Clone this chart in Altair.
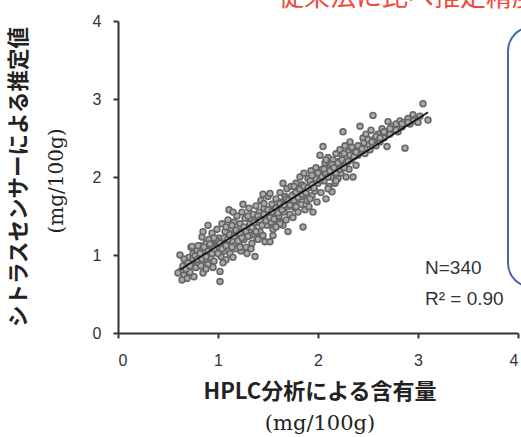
import altair as alt
import pandas as pd

# HPLC value (x) and citrus-sensor estimate (y)
hplc = [
    0.63, 0.65, 0.66, 0.68, 0.70, 0.71, 0.72, 0.74, 0.75, 0.76, 0.77, 0.78, 0.79, 0.80, 0.66, 0.69, 0.73, 0.62, 0.60, 0.64, 0.74,
    0.81, 0.82, 0.83, 0.84, 0.85, 0.86, 0.87, 0.88, 0.89, 0.90, 0.91, 0.92, 0.93, 0.94, 0.95, 0.96, 0.97, 0.98, 0.99, 1.00, 0.85, 0.90, 0.95, 0.88,
    1.01, 1.02, 1.02, 1.03, 1.04, 1.05, 1.06, 1.07, 1.08, 1.09, 1.10, 1.11, 1.11, 1.12, 1.13, 1.14, 1.15, 1.16, 1.17, 1.18, 1.19, 1.20, 1.05, 1.15,
    1.21, 1.22, 1.23, 1.24, 1.25, 1.26, 1.27, 1.28, 1.29, 1.30, 1.31, 1.32, 1.33, 1.34, 1.35, 1.36, 1.37, 1.38, 1.39, 1.40, 1.25, 1.33,
    1.41, 1.42, 1.43, 1.44, 1.45, 1.46, 1.47, 1.48, 1.49, 1.50, 1.51, 1.52, 1.52, 1.53, 1.54, 1.55, 1.56, 1.57, 1.58, 1.59, 1.60, 1.45, 1.55,
    1.61, 1.62, 1.63, 1.64, 1.65, 1.66, 1.67, 1.68, 1.69, 1.70, 1.70, 1.71, 1.72, 1.73, 1.74, 1.75, 1.76, 1.77, 1.78, 1.79, 1.80, 1.65,
    1.81, 1.82, 1.83, 1.84, 1.85, 1.85, 1.86, 1.87, 1.88, 1.89, 1.90, 1.91, 1.92, 1.93, 1.94, 1.95, 1.96, 1.97, 1.98, 1.99, 2.00,
    2.01, 2.02, 2.03, 2.04, 2.05, 2.06, 2.07, 2.08, 2.09, 2.10, 2.11, 2.12, 2.13, 2.14, 2.15, 2.16, 2.17, 2.18, 2.19, 2.20,
    2.21, 2.22, 2.23, 2.24, 2.25, 2.26, 2.27, 2.28, 2.29, 2.30, 2.31, 2.32, 2.33, 2.35, 2.36, 2.38, 2.40,
    2.42, 2.43, 2.45, 2.47, 2.48, 2.50, 2.52, 2.53, 2.55, 2.56, 2.58, 2.60, 2.62, 2.64, 2.66, 2.68, 2.69, 2.70,
    2.72, 2.74, 2.76, 2.78, 2.80, 2.82, 2.84, 2.86, 2.87, 2.90, 2.92, 2.95, 2.98, 3.02, 3.05, 3.10,
    0.68, 0.70, 0.72, 0.75, 0.77, 0.79, 0.82, 0.84, 0.86, 0.88, 0.90, 0.92, 0.94, 0.96, 0.98, 1.00,
    1.02, 1.04, 1.06, 1.08, 1.10, 1.12, 1.14, 1.16, 1.18, 1.20, 1.22, 1.24, 1.26, 1.28, 1.30,
    1.32, 1.34, 1.36, 1.38, 1.40, 1.42, 1.44, 1.46, 1.48, 1.50, 1.52, 1.54, 1.56, 1.58, 1.60,
    1.62, 1.64, 1.66, 1.68, 1.70, 1.72, 1.74, 1.76, 1.78, 1.80, 1.82, 1.84, 1.86, 1.88, 1.90,
    1.92, 1.94, 1.96, 1.98, 2.00, 2.02, 2.04, 2.06, 2.08, 2.10, 2.12, 2.14, 2.16, 2.18, 2.20,
    2.22, 2.24, 2.26, 2.28, 2.30, 2.32, 2.34, 2.36, 2.38, 2.40, 2.44, 2.46, 2.50, 2.54, 2.58,
    2.62, 2.66, 2.72, 2.78, 2.84, 2.90, 2.96, 3.00,
    0.80, 0.96, 1.14, 1.30, 1.46, 1.62, 1.78, 1.94, 2.10, 2.26, 1.08, 1.22, 1.40, 1.58, 1.76, 1.92, 2.08, 2.18,
]
sensor = [
    0.80, 0.86, 0.74, 0.92, 0.83, 0.97, 0.78, 0.88, 1.02, 0.72, 0.93, 0.84, 1.06, 0.90, 0.95, 0.70, 1.10, 1.00, 0.77, 0.68, 1.11,
    0.98, 1.12, 0.86, 1.23, 0.77, 1.04, 0.94, 1.15, 1.00, 0.88, 1.20, 1.07, 0.96, 1.28, 1.12, 0.92, 1.18, 1.03, 1.33, 1.10, 1.30, 1.38, 0.84, 0.82,
    1.22, 0.79, 0.66, 0.98, 1.40, 1.15, 1.05, 1.30, 0.94, 1.21, 1.45, 1.58, 1.12, 1.02, 1.34, 1.18, 0.97, 1.42, 1.25, 1.08, 1.50, 1.30, 0.90, 1.55,
    1.15, 1.40, 1.05, 1.55, 1.28, 1.20, 1.47, 1.10, 1.02, 1.36, 1.60, 1.25, 1.45, 1.15, 1.52, 1.33, 0.98, 1.63, 1.22, 1.42, 1.65, 1.08,
    1.55, 1.30, 1.70, 1.45, 1.25, 1.60, 1.17, 1.50, 1.38, 1.75, 1.55, 1.17, 1.79, 1.42, 1.65, 1.33, 1.58, 1.48, 1.72, 1.38, 1.62, 1.78, 1.25,
    1.50, 1.80, 1.42, 1.68, 1.92, 1.55, 1.75, 1.45, 1.85, 1.30, 1.62, 1.72, 1.52, 1.88, 1.65, 1.48, 1.78, 1.60, 1.92, 1.70, 1.55, 1.38,
    1.82, 2.00, 1.65, 1.90, 1.36, 1.75, 2.05, 1.58, 1.85, 1.70, 1.98, 1.62, 1.88, 2.08, 1.76, 1.55, 1.95, 1.82, 2.12, 1.68, 1.92,
    2.02, 2.28, 1.80, 2.10, 2.39, 1.95, 2.18, 1.72, 2.05, 2.25, 1.88, 2.15, 2.00, 1.81, 2.22, 2.08, 1.92, 2.30, 2.12, 1.98,
    2.20, 2.35, 2.05, 2.28, 2.58, 2.15, 2.40, 2.00, 2.25, 2.32, 2.10, 2.45, 2.22, 2.00, 2.35, 2.15, 2.28,
    2.65, 2.38, 2.50, 2.30, 2.55, 2.42, 2.35, 2.60, 2.79, 2.48, 2.40, 2.55, 2.45, 2.62, 2.50, 2.58, 2.39, 2.71,
    2.55, 2.65, 2.60, 2.68, 2.58, 2.72, 2.64, 2.70, 2.37, 2.75, 2.68, 2.80, 2.74, 2.78, 2.94, 2.73,
    0.82, 0.90, 0.86, 0.95, 0.99, 0.94, 1.02, 0.95, 1.10, 0.98, 1.05, 1.14, 1.02, 1.08, 1.20, 1.02,
    1.15, 1.08, 1.22, 1.12, 1.20, 1.26, 1.10, 1.24, 1.32, 1.18, 1.28, 1.22, 1.36, 1.30, 1.24,
    1.40, 1.35, 1.42, 1.30, 1.50, 1.45, 1.38, 1.52, 1.44, 1.58, 1.48, 1.55, 1.46, 1.60, 1.54,
    1.66, 1.58, 1.64, 1.72, 1.70, 1.64, 1.76, 1.70, 1.80, 1.74, 1.84, 1.78, 1.88, 1.80, 1.86,
    1.95, 1.90, 1.86, 1.98, 2.05, 1.96, 2.00, 2.10, 2.04, 2.00, 2.08, 2.16, 2.12, 2.05, 2.18,
    2.10, 2.22, 2.30, 2.18, 2.20, 2.28, 2.38, 2.26, 2.32, 2.40, 2.36, 2.44, 2.48, 2.45, 2.52,
    2.50, 2.58, 2.62, 2.60, 2.68, 2.70, 2.72, 2.70,
    1.12, 1.22, 1.38, 1.50, 1.66, 1.40, 1.62, 2.02, 1.85, 2.12, 1.36, 1.10, 1.20, 1.36, 1.88, 1.72, 2.22, 1.95,
]

fit_x = [0.62, 3.10]
fit_y = [0.81, 2.83]
axis_ticks = [0, 1, 2, 3, 4]

x_title = "HPLC分析による含有量"
y_title = "シトラスセンサーによる推定値"
unit_label = "(mg/100g)"
headline = "従来法に比べ推定精度が向上"
n_label = "N=340"
r2_label = "R² = 0.90"

pts = pd.DataFrame({"x": hplc, "y": sensor})
fit = pd.DataFrame({"x": fit_x, "y": fit_y})

xs = alt.Scale(domain=[0, 4], nice=False)
ys = alt.Scale(domain=[0, 4], nice=False)
axis_common = dict(
    values=axis_ticks, format="d", grid=False, title=None, tickSize=5, tickWidth=2,
    tickColor="#333", domainColor="#333", domainWidth=2, labelFontSize=16,
    labelColor="#333", labelFont="Liberation Sans",
)

points = alt.Chart(pts).mark_circle(
    size=34, fill="#ababab", stroke="#666666", strokeWidth=1.6, opacity=1
).encode(
    x=alt.X("x:Q", scale=xs, axis=alt.Axis(labelPadding=14, **axis_common)),
    y=alt.Y("y:Q", scale=ys, axis=alt.Axis(labelPadding=12, **axis_common)),
)

line = alt.Chart(fit).mark_line(color="#111", strokeWidth=1.6).encode(
    x=alt.X("x:Q", scale=xs), y=alt.Y("y:Q", scale=ys)
)


def label(text, x, y, size, **kw):
    return alt.Chart(pd.DataFrame({"t": [text]})).mark_text(fontSize=size, **kw).encode(
        text="t:N", x=alt.value(x), y=alt.value(y)
    )


CJK = "Noto Sans CJK JP"
SERIF = "DejaVu Serif"

red = label(headline, 160, -15, 26, align="left", baseline="alphabetic",
            color="#f04a3c", font=CJK)
n_txt = label(n_label, 307, 247, 19, align="left", baseline="middle",
              color="#333", font="Liberation Sans")
r_txt = label(r2_label, 307, 278, 19, align="left", baseline="middle",
              color="#333", font="Liberation Sans")

y_t1 = label(y_title, -98, 156, 21.5, angle=270, align="center", baseline="middle",
             color="#222", font=CJK, fontWeight="bold")
y_u = label(unit_label, -61, 160, 20, angle=270, align="center", baseline="middle",
            color="#222", font=SERIF)

x_t1 = label(x_title, 202, 371, 22, align="center", baseline="middle",
             color="#222", font=CJK, fontWeight="bold")
x_u = label(unit_label, 202, 403, 21, align="center", baseline="middle",
            color="#222", font=SERIF)

box = alt.Chart(pd.DataFrame({"a": [0]})).mark_rect(
    fill=None, stroke="#4565ad", strokeWidth=2, cornerRadius=24
).encode(x=alt.value(390), x2=alt.value(560), y=alt.value(6), y2=alt.value(266))

chart = alt.layer(
    box, points, line, red, n_txt, r_txt, y_t1, y_u, x_t1, x_u
).properties(
    width=400, height=312,
    padding={"left": 118, "top": 21, "right": 3, "bottom": 104},
    autosize=alt.AutoSizeParams(type="none"),
).configure_view(stroke=None)

chart.save("out.html", embed_options={"renderer": "svg", "actions": False})
